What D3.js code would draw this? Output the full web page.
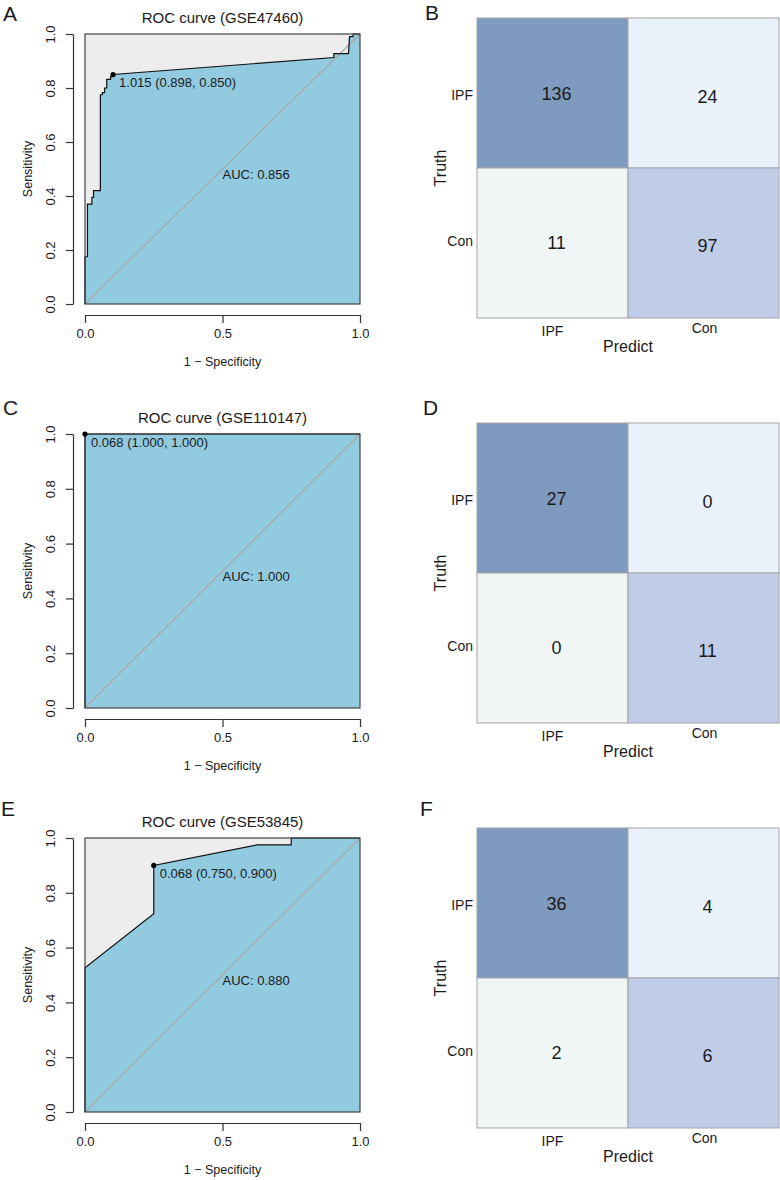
<!DOCTYPE html>
<html>
<head>
<meta charset="utf-8">
<script src="https://cdn.jsdelivr.net/npm/d3@7"></script>
<style>
  body { margin: 0; background: #fff; }
  text { font-family: "Liberation Sans", Arial, sans-serif; fill: #1a1a1a; }
</style>
</head>
<body>
<svg id="svg" width="780" height="1180"></svg>
<script>
// ROC curves, points are [1 - specificity, sensitivity]
const rocA = [[0,0],[0,0.175],[0.009,0.175],[0.009,0.37],[0.025,0.37],[0.025,0.395],[0.031,0.395],[0.031,0.42],[0.056,0.42],
  [0.056,0.775],[0.063,0.775],[0.063,0.783],[0.071,0.783],[0.071,0.80],[0.079,0.80],[0.079,0.832],[0.093,0.832],[0.093,0.842],
  [0.102,0.842],[0.102,0.85],[0.905,0.913],[0.905,0.927],[0.958,0.927],[0.962,0.99],[0.975,0.99],[0.975,1],[1,1]];
const rocC = [[0,0],[0,1],[1,1]];
const rocE = [[0,0],[0,0.526],[0.25,0.724],[0.25,0.9],[0.625,0.975],[0.75,0.975],[0.75,1],[1,1]];

const rocTitles = ["ROC curve (GSE47460)", "ROC curve (GSE110147)", "ROC curve (GSE53845)"];
const bestPts = [[0.102,0.85],[0,1],[0.25,0.9]];
const bestLabels = ["1.015 (0.898, 0.850)", "0.068 (1.000, 1.000)", "0.068 (0.750, 0.900)"];
const aucLabels = ["AUC: 0.856", "AUC: 1.000", "AUC: 0.880"];
const yTicks = [0, 0.2, 0.4, 0.6, 0.8, 1.0];
const xTicks = [0, 0.5, 1.0];

// confusion matrices, rows = truth, cols = predict
const classes = ["IPF", "Con"];
const cmB = [[136,24],[11,97]];
const cmD = [[27,0],[0,11]];
const cmF = [[36,4],[2,6]];

const svg = d3.select("#svg");
const cellCol = [["#7F9ABF","#E9F2FA"],["#F0F6F6","#BFCDE9"]];

function roc(pts, top, h, title, best, bestTxt, auc)
{
    let x = d3.scaleLinear().domain([0,1]).range([85,360]);
    let y = d3.scaleLinear().domain([0,1]).range([top+h, top]);
    let g = svg.append("g");

    // grey max area then blue auc area
    g.append("rect").attr("x", x(0)).attr("y", y(1)).attr("width", x(1)-x(0)).attr("height", y(0)-y(1)).attr("fill", "#EDEDED");
    let poly = pts.concat([[1,0],[0,0]]);
    g.append("path").attr("d", d3.line().x(d=>x(d[0])).y(d=>y(d[1]))(poly)+"Z").attr("fill", "#92CAE0");
    g.append("line").attr("x1", x(0)).attr("y1", y(0)).attr("x2", x(1)).attr("y2", y(1)).attr("stroke", "#A8A8A8").attr("stroke-width", 1.2);
    g.append("path").attr("d", d3.line().x(d=>x(d[0])).y(d=>y(d[1]))(pts)).attr("fill", "none").attr("stroke", "#111").attr("stroke-width", 1.2);
    g.append("rect").attr("x", x(0)).attr("y", y(1)).attr("width", x(1)-x(0)).attr("height", y(0)-y(1)).attr("fill", "none").attr("stroke", "#444").attr("stroke-width", 1.2);

    g.append("circle").attr("cx", x(best[0])).attr("cy", y(best[1])).attr("r", 2.6).attr("fill", "#000");
    g.append("text").attr("x", x(best[0])+6).attr("y", y(best[1])+8).attr("dominant-baseline", "central").style("font-size", "13px").text(bestTxt);
    g.append("text").attr("x", x(0.5)).attr("y", y(0.48)).attr("dominant-baseline", "central").style("font-size", "13px").text(auc);

    g.append("text").attr("x", (x(0)+x(1))/2).attr("y", top-17).attr("text-anchor", "middle").attr("dominant-baseline", "central").style("font-size", "15px").text(title);

    // axes drawn R style, away from the box
    let ay = g.append("g").attr("transform", "translate(73,0)")
        .call(d3.axisLeft(y).tickValues(yTicks).tickFormat(d3.format(".1f")).tickSize(7).tickSizeOuter(0));
    ay.selectAll("text").attr("transform", "rotate(-90)").attr("x", 0).attr("y", -23).attr("dy", "0.35em")
        .attr("text-anchor", "middle").style("font-size", "13px").style("font-family", "Liberation Sans").attr("fill", "#1a1a1a");
    let ax = g.append("g").attr("transform", "translate(0," + (top+h+11) + ")")
        .call(d3.axisBottom(x).tickValues(xTicks).tickFormat(d3.format(".1f")).tickSize(8).tickSizeOuter(0));
    ax.selectAll("text").attr("y", 18).attr("dy", "0.35em").style("font-size", "13px").style("font-family", "Liberation Sans").attr("fill", "#1a1a1a");
    g.selectAll(".domain, .tick line").attr("stroke", "#333").attr("stroke-width", 1.2);

    g.append("text").attr("x", (x(0)+x(1))/2).attr("y", top+h+58).attr("text-anchor", "middle").attr("dominant-baseline", "central").style("font-size", "12.5px").text("1 \u2212 Specificity");
    g.append("text").attr("transform", "translate(28," + (top+h/2) + ") rotate(-90)").attr("text-anchor", "middle").attr("dominant-baseline", "central").style("font-size", "12.5px").text("Sensitivity");
}

function matrix(cm, top)
{
    let x = d3.scaleBand().domain(classes).range([477, 779]);
    let y = d3.scaleBand().domain(classes).range([top, top+300]);
    let g = svg.append("g");
    classes.forEach((t, i) => {
        classes.forEach((p, j) => {
            g.append("rect").attr("x", x(p)).attr("y", y(t)).attr("width", x.bandwidth()).attr("height", y.bandwidth())
                .attr("fill", cellCol[i][j]).attr("stroke", "#A3A3A3").attr("stroke-width", 1);
            g.append("text").attr("x", x(p)+x.bandwidth()/2+4).attr("y", y(t)+y.bandwidth()/2+(j==1?3:0)+(i==0?1:0))
                .attr("text-anchor", "middle").attr("dominant-baseline", "central").style("font-size", "18px").text(cm[i][j]);
        });
        g.append("text").attr("x", 473).attr("y", y(t)+y.bandwidth()/2+(i==0?2:-2)).attr("text-anchor", "end").attr("dominant-baseline", "central").style("font-size", "14px").text(t);
        g.append("text").attr("x", x(t)+x.bandwidth()/2+(i==0?0:1)).attr("y", top+300+(i==0?13:10)).attr("text-anchor", "middle").attr("dominant-baseline", "central").style("font-size", "14px").text(t);
    });
    g.append("text").attr("transform", "translate(440," + (top+150) + ") rotate(-90)").attr("text-anchor", "middle").attr("dominant-baseline", "central").style("font-size", "16px").text("Truth");
    g.append("text").attr("x", 628).attr("y", top+328).attr("text-anchor", "middle").attr("dominant-baseline", "central").style("font-size", "16px").text("Predict");
}

roc(rocA, 34, 270, rocTitles[0], bestPts[0], bestLabels[0], aucLabels[0]);
roc(rocC, 434, 274, rocTitles[1], bestPts[1], bestLabels[1], aucLabels[1]);
roc(rocE, 838, 274, rocTitles[2], bestPts[2], bestLabels[2], aucLabels[2]);
matrix(cmB, 18);
matrix(cmD, 423);
matrix(cmF, 828);

const letters = [["A",3,13],["B",425,12],["C",3,407],["D",423,407],["E",1,808],["F",420,808]];
letters.forEach(l => {
    svg.append("text").attr("x", l[1]).attr("y", l[2]).attr("dominant-baseline", "central").style("font-size", "21px").text(l[0]);
});
</script>
</body>
</html>
